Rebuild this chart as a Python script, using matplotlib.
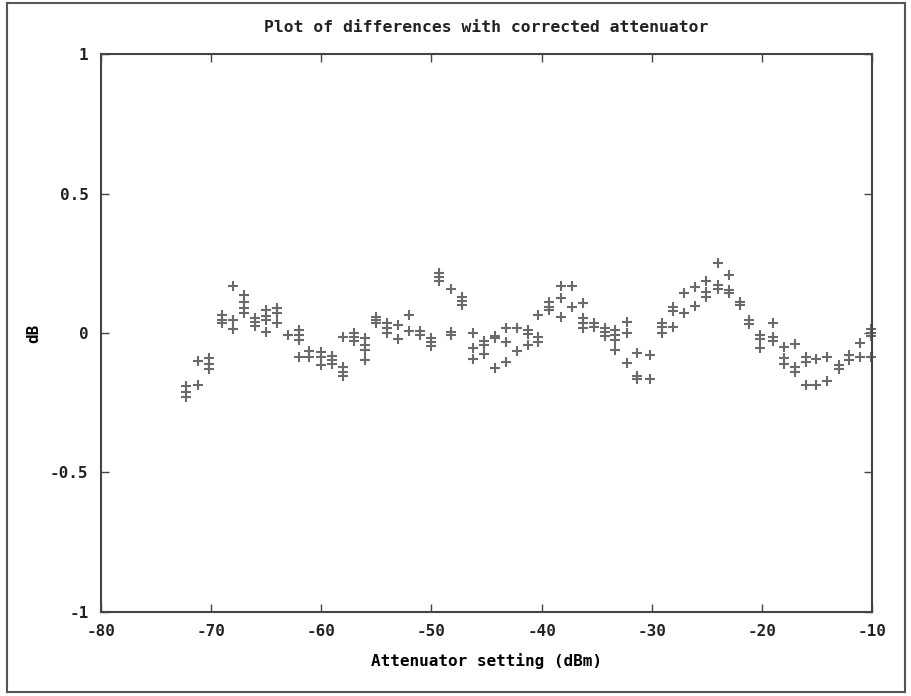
import matplotlib.pyplot as plt
from matplotlib.patches import Rectangle

# attenuator settings (dBm), one entry per group of repeated measurements
settings = [-72.3, -71.2, -70.2, -69.0, -68.0, -67.0, -66.0, -65.0, -64.0, -63.0,
            -62.0, -61.1, -60.0, -59.0, -58.0, -57.0, -56.0, -55.0, -54.0, -53.0,
            -52.0, -51.0, -50.0, -49.3, -48.2, -47.2, -46.2, -45.2, -44.2, -43.2,
            -42.2, -41.2, -40.3, -39.3, -38.2, -37.2, -36.2, -35.2, -34.2, -33.3,
            -32.25, -31.3, -30.2, -29.1, -28.1, -27.05, -26.05, -25.05, -24.0, -23.0,
            -22.0, -21.15, -20.15, -19.0, -18.0, -17.0, -16.0, -15.1, -14.1, -13.0,
            -12.1, -11.1, -10.07]

# differences (dB) measured at each setting
diffs = [[-0.19, -0.21, -0.23], [-0.10, -0.185], [-0.09, -0.11, -0.13],
         [0.065, 0.047, 0.036], [0.168, 0.047, 0.014], [0.136, 0.112, 0.091, 0.073],
         [0.054, 0.039, 0.025], [0.082, 0.062, 0.047, 0.005], [0.089, 0.073, 0.035],
         [-0.007], [0.011, -0.007, -0.025, -0.085], [-0.065, -0.085],
         [-0.067, -0.087, -0.115], [-0.082, -0.097, -0.111],
         [-0.013, -0.121, -0.139, -0.154], [-0.001, -0.013, -0.028],
         [-0.019, -0.043, -0.061, -0.097], [0.058, 0.047, 0.035], [0.035, 0.017, 0.0],
         [0.029, -0.023], [0.065, 0.007], [0.008, -0.007], [-0.019, -0.031, -0.047],
         [0.214, 0.2, 0.187], [0.157, 0.005, -0.007], [0.13, 0.115, 0.1],
         [0.001, -0.055, -0.094], [-0.028, -0.043, -0.075], [-0.011, -0.019, -0.127],
         [0.017, -0.031, -0.103], [0.017, -0.063], [0.011, -0.004, -0.043],
         [0.065, -0.013, -0.031], [0.112, 0.094, 0.082], [0.168, 0.124, 0.056],
         [0.168, 0.092], [0.106, 0.053, 0.035, 0.017], [0.035, 0.023],
         [0.017, 0.005, -0.011], [0.011, -0.007, -0.025, -0.061],
         [0.041, -0.001, -0.106], [-0.073, -0.154, -0.166], [-0.079, -0.166],
         [0.035, 0.02, 0.001], [0.094, 0.08, 0.023], [0.142, 0.073], [0.164, 0.097],
         [0.187, 0.148, 0.13], [0.252, 0.172, 0.157], [0.208, 0.154, 0.142],
         [0.112, 0.1], [0.047, 0.032], [-0.007, -0.023, -0.055], [0.037, -0.013, -0.028],
         [-0.051, -0.091, -0.111], [-0.039, -0.123, -0.139], [-0.085, -0.103, -0.186],
         [-0.094, -0.186], [-0.087, -0.171], [-0.115, -0.13], [-0.079, -0.097],
         [-0.035, -0.087], [0.013, -0.001, -0.011, -0.087]]

x_ticks = [-80, -70, -60, -50, -40, -30, -20, -10]
y_ticks = [-1, -0.5, 0, 0.5, 1]
y_tick_labels = ["-1", "-0.5", "0", "0.5", "1"]

xs = [s for s, group in zip(settings, diffs) for _ in group]
ys = [d for group in diffs for d in group]

plt.rcParams["font.family"] = "DejaVu Sans Mono"
plt.rcParams["font.weight"] = "bold"
plt.rcParams["axes.titleweight"] = "bold"
plt.rcParams["axes.labelweight"] = "bold"
plt.rcParams["text.color"] = "#222222"

fig = plt.figure(figsize=(9.11, 6.96), dpi=100)
ax = fig.add_axes([0.1109, 0.1207, 0.8463, 0.8017])

ax.plot(xs, ys, linestyle="none", marker="+", markersize=7.5,
        markeredgewidth=1.5, color="#6a6a6a", clip_on=False)

ax.set_xlim(-80, -10)
ax.set_ylim(-1, 1)
ax.set_xticks(x_ticks)
ax.set_xticklabels([str(t) for t in x_ticks])
ax.set_yticks(y_ticks)
ax.set_yticklabels(y_tick_labels)
ax.tick_params(direction="in", length=6, width=1, color="#444444",
               labelcolor="#222222", top=True, right=True, labelsize=11.5, pad=9)
for spine in ax.spines.values():
    spine.set_color("#444444")
    spine.set_linewidth(1.5)

ax.set_xlabel("Attenuator setting (dBm)", fontsize=11.5, labelpad=10)
ax.set_ylabel("dB", fontsize=11.5, labelpad=6)
ax.set_title("Plot of differences with corrected attenuator", fontsize=11.8, pad=16)

fig.patches.append(Rectangle((0.0077, 0.006), 0.9858, 0.9897, transform=fig.transFigure,
                             fill=False, edgecolor="#555555", linewidth=1.5))

fig.savefig("out.png", dpi=100)
